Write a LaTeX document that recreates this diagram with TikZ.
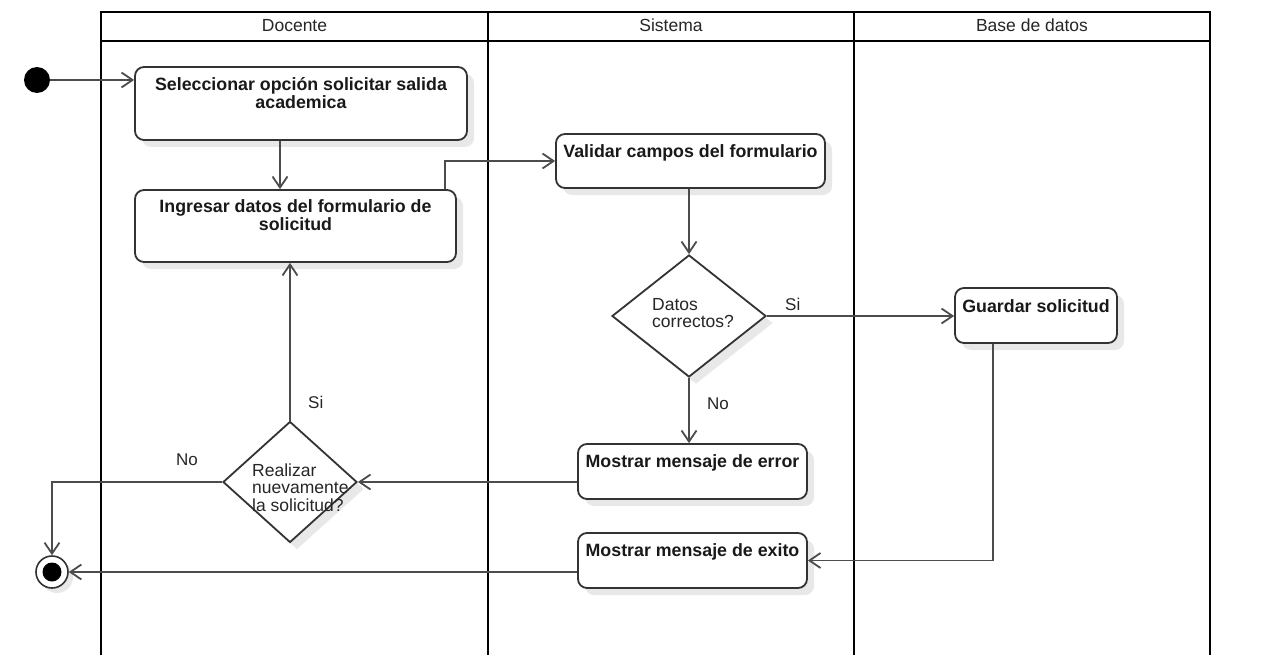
\documentclass[tikz,border=0pt]{standalone}
\usepackage{fontspec}
\setmainfont{Liberation Sans}
\usetikzlibrary{shapes.geometric,arrows.meta,shadows}
\newcommand{\mlc}[1]{\begin{tabular}[t]{@{}c@{}}#1\end{tabular}}
\newcommand{\mll}[1]{\begin{tabular}[t]{@{}l@{}}#1\end{tabular}}
\begin{document}
\begin{tikzpicture}[x=1pt,y=-1pt,
  lane/.style={line width=2.6pt, draw=black},
  shad/.style={drop shadow={shadow xshift=7pt,shadow yshift=-7pt,fill=black!9,opacity=1}},
  act/.style={draw=black!80, line width=1.8pt, rounded corners=9pt, fill=white, inner sep=0pt, shad},
  dec/.style={diamond, draw=black!80, line width=1.8pt, fill=white, inner sep=0pt, shad},
  acttxt/.style={anchor=base, inner sep=0pt, text=black!90, font=\bfseries\fontsize{17.8}{18}\selectfont},
  dectxt/.style={anchor=base west, inner sep=0pt, text=black!85, font=\fontsize{17.5}{17.4}\selectfont},
  head/.style={anchor=base, inner sep=0pt, text=black!85, font=\fontsize{17.5}{18}\selectfont},
  lbl/.style={anchor=base west, inner sep=0pt, text=black!85, font=\fontsize{17}{18}\selectfont},
  conn/.style={draw=black!70, line width=1.8pt},
  arr/.style={conn, -{Straight Barb[length=11pt,width=15pt]}}
]
\fill[white] (0,0) rectangle (1265,655);
\useasboundingbox (0,0) rectangle (1265,655);

% swimlanes
\draw[lane] (101,655) -- (101,12) -- (1210,12) -- (1210,655);
\draw[lane] (101,41) -- (1210,41);
\draw[lane] (488,12) -- (488,655);
\draw[lane] (854,12) -- (854,655);
\node[head] (hdoc) at (294.5,31.5) {Docente};
\node[head] (hsis) at (671,31.5) {Sistema};
\node[head] (hbd) at (1032,31.5) {Base de datos};

% start / end
\node[circle, fill=black, minimum size=26pt, inner sep=0pt] (ini) at (37,80) {};
\node[circle, draw=black!80, line width=1.6pt, fill=white, minimum size=32pt, inner sep=0pt,
      drop shadow={shadow xshift=5pt,shadow yshift=-5pt,fill=black!9,opacity=1}] (fin) at (52,572) {};
\node[circle, fill=black, minimum size=19pt, inner sep=0pt] (finin) at (fin) {};

% activities
\node[act, minimum width=332pt, minimum height=73pt] (b1) at (301,103.5) {};
\node[acttxt] (t1) at (301,90.5) {\mlc{Seleccionar opción solicitar salida\\academica}};
\node[act, minimum width=321pt, minimum height=72pt] (b2) at (295.5,226) {};
\node[acttxt] (t2) at (295.5,212.5) {\mlc{Ingresar datos del formulario de\\solicitud}};
\node[act, minimum width=269pt, minimum height=54pt] (val) at (690.5,161) {};
\node[acttxt] (t3) at (690.5,157.5) {Validar campos del formulario};
\node[act, minimum width=162pt, minimum height=55pt] (gua) at (1036,315.5) {};
\node[acttxt] (t4) at (1036,312) {Guardar solicitud};
\node[act, minimum width=229pt, minimum height=55pt] (err) at (692.5,471.5) {};
\node[acttxt] (t5) at (692.5,467) {Mostrar mensaje de error};
\node[act, minimum width=229pt, minimum height=55pt] (ex) at (692.5,560.5) {};
\node[acttxt] (t6) at (692.5,556) {Mostrar mensaje de exito};

% decisions
\node[dec, minimum width=154pt, minimum height=122pt] (d1) at (689,316) {};
\node[dectxt] (t7) at (652,310) {\mll{Datos\\correctos?}};
\node[dec, minimum width=134pt, minimum height=121pt] (d2) at (290,482) {};
\node[dectxt] (t8) at (252,476) {\mll{Realizar\\nuevamente\\la solicitud?}};

% helper coordinates
\coordinate (x280) at (280,0);
\coordinate (x445) at (445,0);
\coordinate (x993) at (993,0);

% connectors
\draw[arr] (ini.east) -- (ini.east -| b1.west);
\draw[arr] (b1.south -| x280) -- (b2.north -| x280);
\draw[arr] (b2.north -| x445) |- (val.west);
\draw[arr] (val.south -| d1.north) -- (d1.north);
\draw[arr] (d1.east) -- (d1.east -| gua.west);
\draw[arr] (d1.south) -- (d1.south |- err.north);
\draw[arr] (gua.south -| x993) |- (ex.east);
\draw[arr] (err.west |- d2.east) -- (d2.east);
\draw[arr] (d2.north) -- (d2.north |- b2.south);
\draw[arr] (d2.west) -| (fin.north);
\draw[arr] (ex.west |- fin.east) -- (fin.east);

% guard labels
\node[lbl] (l1) at (785,310) {Si};
\node[lbl] (l2) at (707,409) {No};
\node[lbl] (l3) at (308,408) {Si};
\node[lbl] (l4) at (176,465) {No};
\end{tikzpicture}
\end{document}
